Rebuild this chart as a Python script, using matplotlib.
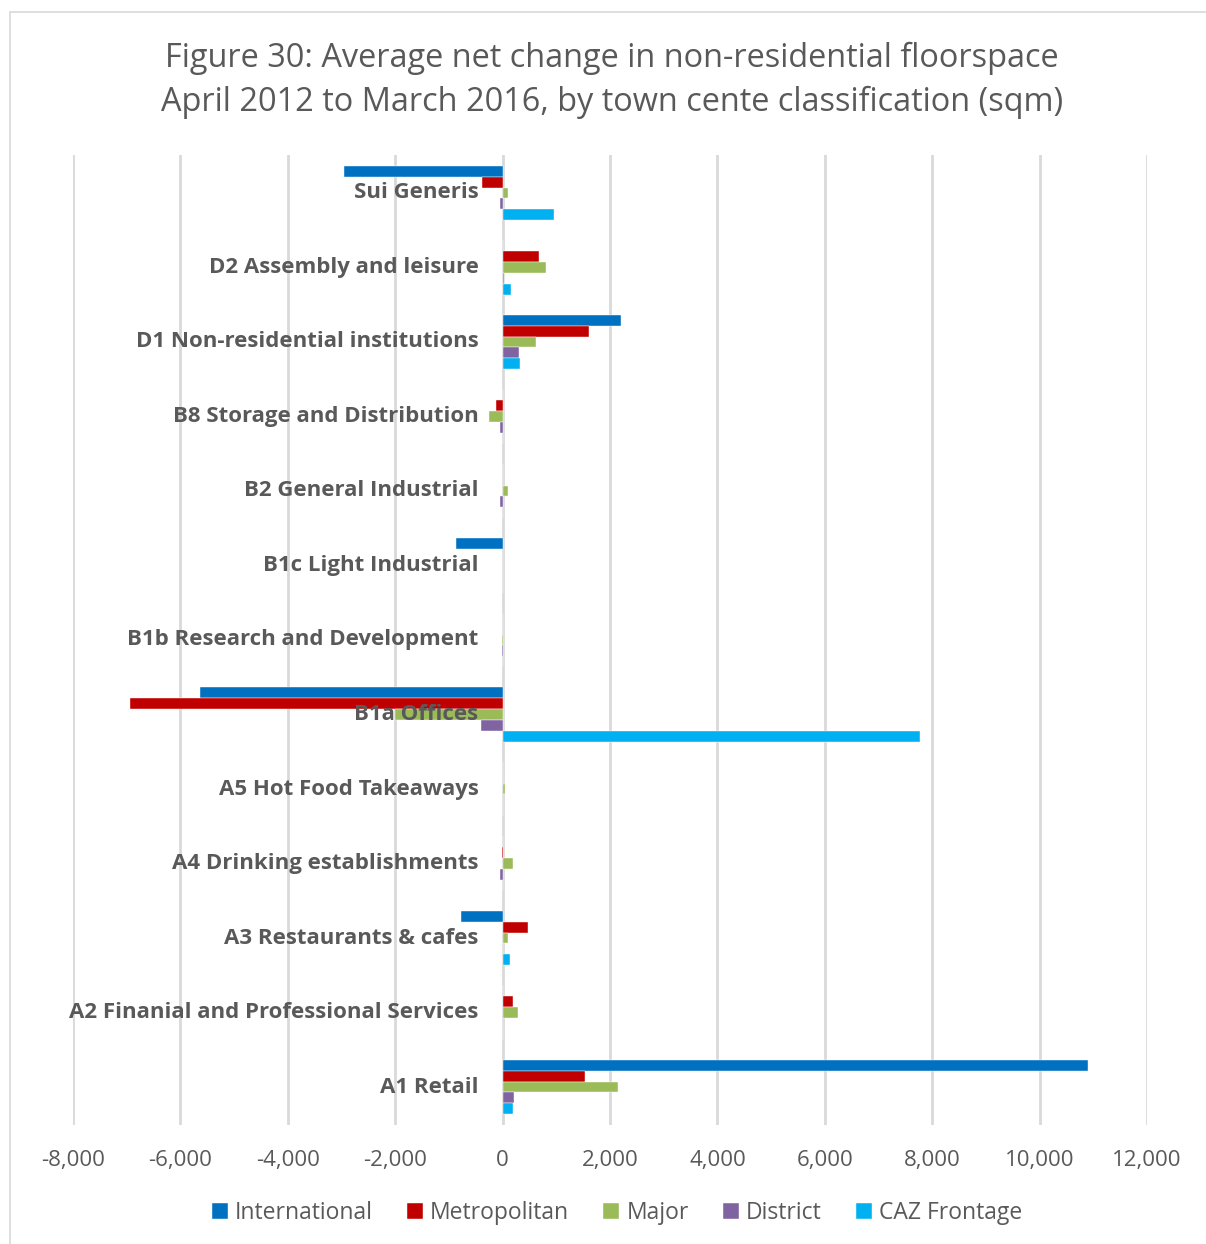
import matplotlib.pyplot as plt
import numpy as np
from matplotlib.patches import Rectangle

plt.rcParams['font.family'] = ['Open Sans', 'DejaVu Sans']

# categories bottom to top
categorias = ["A1 Retail", "A2 Finanial and Professional Services", "A3 Restaurants & cafes",
              "A4 Drinking establishments", "A5 Hot Food Takeaways", "B1a Offices",
              "B1b Research and Development", "B1c Light Industrial", "B2 General Industrial",
              "B8 Storage and Distribution", "D1 Non-residential institutions",
              "D2 Assembly and leisure", "Sui Generis"]

international = [10900, 0, -780, 0, 0, -5640, 0, -860, 0, 0, 2200, 0, -2950]
metropolitan = [1530, 200, 470, -10, 0, -6930, 0, 0, 0, -130, 1600, 670, -390]
major = [2140, 280, 100, 200, 40, -2000, -20, 0, 100, -250, 620, 800, 100]
district = [220, 0, 10, -40, 0, -400, -10, 0, -40, -40, 300, 20, -40]
caz_frontage = [200, 0, 130, 0, 0, 7780, 0, 0, 0, 0, 330, 150, 950]

series = [("International", international, "#0070c0"),
          ("Metropolitan", metropolitan, "#c00000"),
          ("Major", major, "#9bbb59"),
          ("District", district, "#8064a2"),
          ("CAZ Frontage", caz_frontage, "#00b0f0")]

gris = "#595959"

fig = plt.figure(figsize=(12.06, 12.44), dpi=100)
ax = fig.add_axes([73 / 1206, 119 / 1244, (1147 - 73) / 1206, (1125 - 155) / 1244])

y = np.arange(len(categorias))
h = 0.145
for j, (nombre, vals, col) in enumerate(series):
    ax.barh(y + (2 - j) * h - 0.04, vals, height=h, color=col, label=nombre, zorder=3,
            edgecolor="white", linewidth=0.3)

ax.set_xlim(-8000, 12000)
ax.set_ylim(-0.55, 12.47)
ax.set_xticks(np.arange(-8000, 12001, 2000))
ax.set_xticklabels([f"{v:,}" for v in range(-8000, 12001, 2000)], fontsize=16, color=gris)
ax.tick_params(axis="x", length=0, pad=18)
ax.set_yticks([])
ax.grid(axis="x", color="#d9d9d9", linewidth=2, zorder=0)
for s in ax.spines.values():
    s.set_visible(False)

for i, cat in enumerate(categorias):
    ax.text(-450, i - 0.04, cat, ha="right", va="center", fontsize=16, fontweight="bold",
            color=gris, zorder=4)

fig.text(612, 1244 - 58, "Figure 30: Average net change in non-residential floorspace",
         transform=None, ha="center", va="center", fontsize=23.4, color=gris)
fig.text(612, 1244 - 102, "April 2012 to March 2016, by town cente classification (sqm)",
         transform=None, ha="center", va="center", fontsize=23.4, color=gris)

leg = fig.legend(loc="center", bbox_to_anchor=(617 / 1206, 1 - 1213 / 1244), ncol=5,
                 frameon=False, fontsize=16.5, handlelength=0.7, handleheight=0.7,
                 handletextpad=0.3, columnspacing=1.5)
for txt in leg.get_texts():
    txt.set_color(gris)

fig.patches.append(Rectangle((10 / 1206, -0.01), 1.02, 1 - 12 / 1244 + 0.01,
                             transform=fig.transFigure, fill=False,
                             edgecolor="#d9d9d9", linewidth=1.2))

fig.savefig("out.png", dpi=100)
